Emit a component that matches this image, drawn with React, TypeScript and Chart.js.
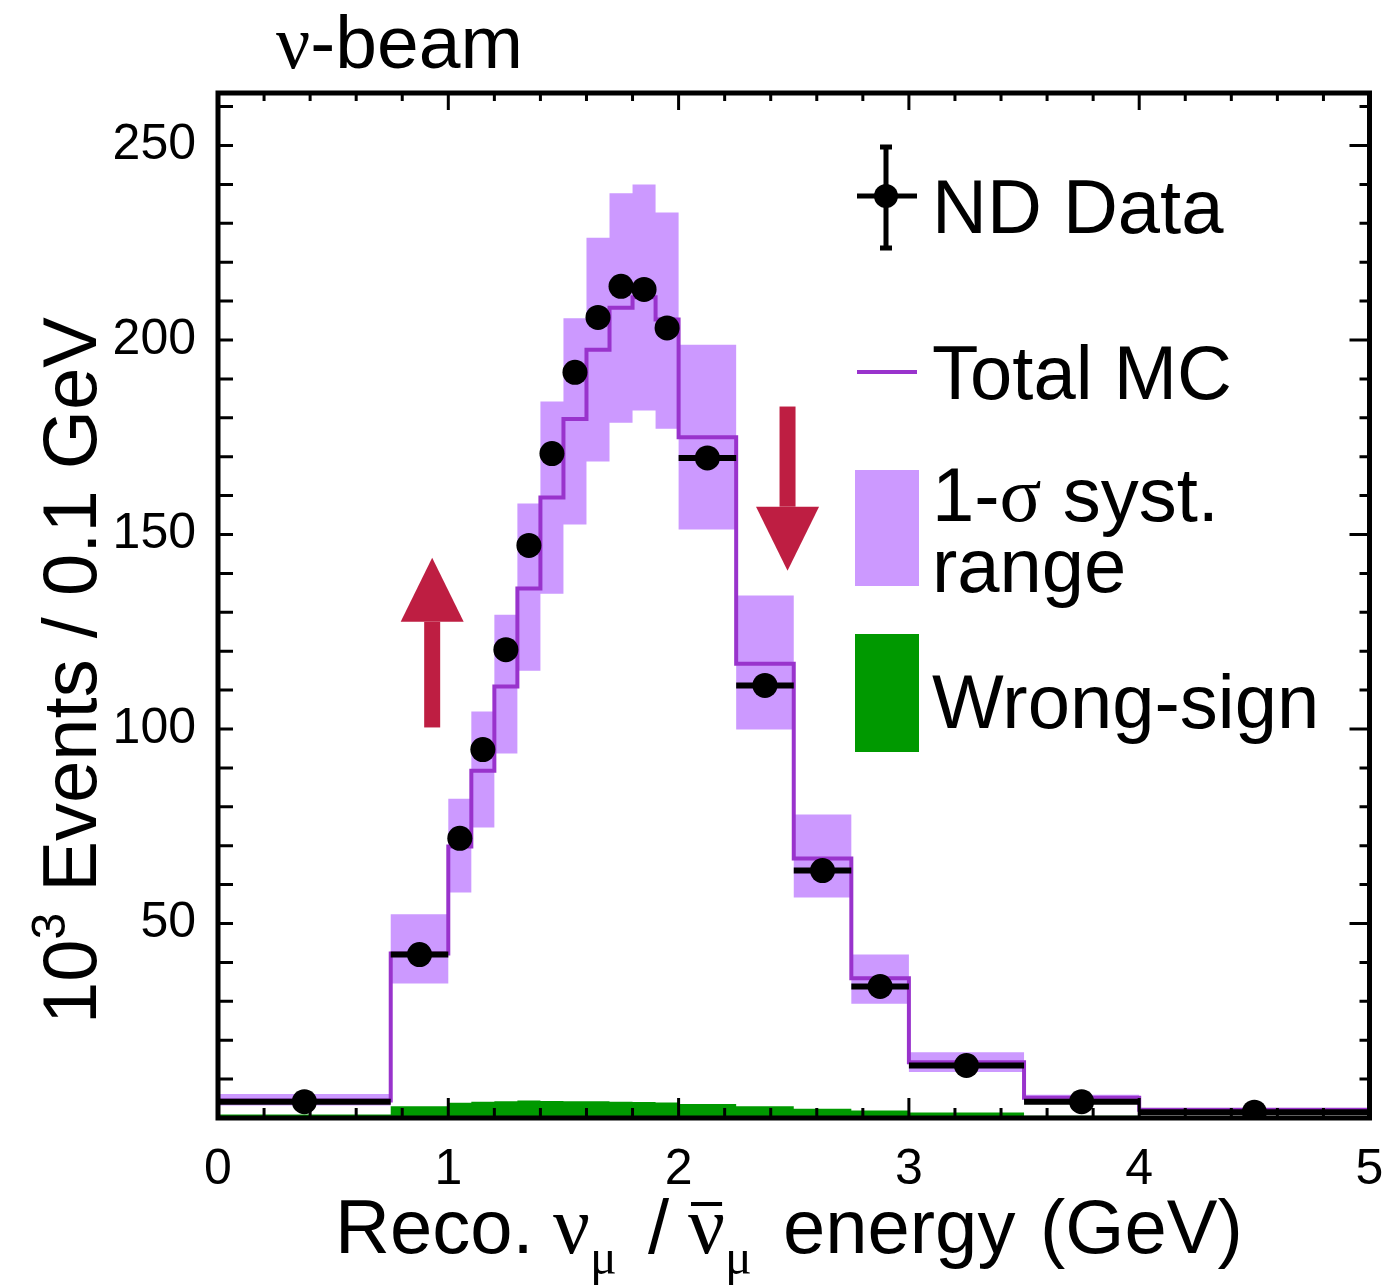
import { useEffect, useRef } from "react";
import { Chart, registerables } from "chart.js";

Chart.register(...registerables);

// ---- data ----
const binEdges = [0, 0.75, 1.0, 1.1, 1.2, 1.3, 1.4, 1.5, 1.6, 1.7, 1.8, 1.9, 2.0, 2.25, 2.5, 2.75, 3.0, 3.5, 4.0, 5.0];
const ndData = [4.2, 42.0, 71.9, 94.7, 120.4, 147.2, 170.8, 191.7, 205.8, 213.8, 213.0, 203.1, 169.7, 111.2, 63.6, 33.8, 13.5, 4.2, 1.5];
const totalMC = [4.5, 42.3, 69.8, 89.3, 110.9, 136.1, 159.5, 179.7, 197.5, 208.3, 211.0, 205.3, 175.0, 116.8, 66.7, 35.9, 14.3, 5.2, 2.1];
const systUpper = [6.2, 52.4, 82.1, 104.5, 129.4, 158.0, 184.2, 205.6, 226.3, 237.7, 240.0, 232.8, 198.8, 134.3, 78.0, 42.0, 16.9, 6.0, 2.6];
const systLower = [3.2, 34.6, 58.0, 74.7, 93.7, 115.0, 134.8, 152.6, 168.8, 178.7, 181.9, 177.2, 151.3, 99.9, 56.7, 29.4, 11.8, 4.0, 1.4];
const wrongSign = [0.9, 3.0, 3.9, 4.2, 4.3, 4.5, 4.4, 4.3, 4.3, 4.2, 4.1, 4.0, 3.6, 3.0, 2.4, 1.9, 1.4, 0.6, 0.3];

const arrowX = [0.93, 2.473];
const arrowTail = [100.4, 182.9];
const arrowTip = [144.0, 140.7];

const xMin = 0;
const xMax = 5;
const yMin = 0;
const yMax = 263.5;

const SANS = '"Liberation Sans", Arial, Helvetica, sans-serif';
const SERIF = '"Liberation Serif", "Times New Roman", serif';

const C_BAND = "#CC99FF";
const C_MC = "#9933CC";
const C_WS = "#009900";
const C_ARROW = "#BE1E42";

function stepPoints(vals: number[]) {
  const pts: { x: number; y: number }[] = [];
  vals.forEach((v, i) => {
    pts.push({ x: binEdges[i], y: v });
    pts.push({ x: binEdges[i + 1], y: v });
  });
  return pts;
}

function errorBarPoints(vals: number[]) {
  const pts: { x: number; y: number | null }[] = [];
  vals.forEach((v, i) => {
    pts.push({ x: binEdges[i], y: v });
    pts.push({ x: binEdges[i + 1], y: v });
    pts.push({ x: binEdges[i + 1], y: null });
  });
  return pts;
}

type Run = { t: string; f: string; dy?: number; bar?: boolean; x?: number };

function drawRuns(ctx: CanvasRenderingContext2D, x: number, y: number, parts: Run[]) {
  let cx = x;
  for (const p of parts) {
    if (p.x !== undefined) cx = p.x;
    ctx.font = p.f;
    ctx.fillText(p.t, cx, y + (p.dy || 0));
    const w = ctx.measureText(p.t).width;
    if (p.bar) {
      ctx.save();
      ctx.lineWidth = 4;
      ctx.beginPath();
      ctx.moveTo(cx + 3, y - 49);
      ctx.lineTo(cx + w - 3, y - 49);
      ctx.stroke();
      ctx.restore();
    }
    cx += w;
  }
}

const overlayPlugin = {
  id: "overlay",
  afterDatasetsDraw(chart: any) {
    const { ctx, scales } = chart;
    const xs = scales.x;
    const ys = scales.y;
    ctx.save();
    ctx.fillStyle = C_ARROW;
    arrowX.forEach((ax, i) => {
      const px = xs.getPixelForValue(ax);
      const pTail = ys.getPixelForValue(arrowTail[i]);
      const pTip = ys.getPixelForValue(arrowTip[i]);
      const dir = pTip < pTail ? -1 : 1;
      const headLen = 64;
      const headHalf = 31.5;
      const shaftHalf = 8;
      const pBase = pTip - dir * headLen;
      ctx.fillRect(px - shaftHalf, Math.min(pTail, pBase), shaftHalf * 2, Math.abs(pBase - pTail));
      ctx.beginPath();
      ctx.moveTo(px - headHalf, pBase);
      ctx.lineTo(px + headHalf, pBase);
      ctx.lineTo(px, pTip);
      ctx.closePath();
      ctx.fill();
    });
    ctx.restore();
  },
  afterDraw(chart: any) {
    const { ctx, chartArea: a, scales } = chart;
    const xs = scales.x;
    const ys = scales.y;
    ctx.save();
    ctx.strokeStyle = "#000";
    ctx.fillStyle = "#000";

    // inward ticks
    ctx.lineWidth = 3;
    ctx.beginPath();
    for (let k = 0; k * 10 <= yMax; k++) {
      const v = k * 10;
      const py = ys.getPixelForValue(v);
      const major = k % 5 === 0;
      ctx.moveTo(a.left, py);
      ctx.lineTo(a.left + 15, py);
      ctx.moveTo(a.right, py);
      ctx.lineTo(a.right - (major ? 20 : 10), py);
    }
    for (let k = 0; k <= 25; k++) {
      const v = k * 0.2;
      const px = xs.getPixelForValue(v);
      const major = k % 5 === 0;
      ctx.moveTo(px, a.bottom);
      ctx.lineTo(px, a.bottom - (major ? 20 : 10));
      ctx.moveTo(px, a.top);
      ctx.lineTo(px, a.top + (major ? 17 : 8));
    }
    ctx.stroke();

    // frame
    ctx.lineWidth = 5;
    ctx.strokeRect(a.left, a.top, a.right - a.left, a.bottom - a.top);

    // title
    ctx.textAlign = "left";
    ctx.textBaseline = "alphabetic";
    drawRuns(ctx, 276, 68, [
      { t: "\u03BD", f: `76px ${SERIF}` },
      { t: "-beam", f: `75px ${SANS}` },
    ]);

    // x title
    drawRuns(ctx, 335, 1253, [
      { t: "Reco.", f: `76px ${SANS}`, x: 335 },
      { t: "\u03BD", f: `82px ${SERIF}`, x: 553 },
      { t: "\u03BC", f: `50px ${SERIF}`, dy: 21 },
      { t: "/", f: `76px ${SANS}`, x: 648 },
      { t: "\u03BD", f: `82px ${SERIF}`, bar: true, x: 688 },
      { t: "\u03BC", f: `50px ${SERIF}`, dy: 21 },
      { t: "energy", f: `76px ${SANS}`, x: 783 },
      { t: "(GeV)", f: `76px ${SANS}`, x: 1040 },
    ]);

    // y title
    ctx.save();
    ctx.translate(96, 1024);
    ctx.rotate(-Math.PI / 2);
    drawRuns(ctx, 0, 0, [
      { t: "10", f: `76px ${SANS}` },
      { t: "3", f: `48px ${SANS}`, dy: -31 },
      { t: " Events / 0.1 GeV", f: `76px ${SANS}` },
    ]);
    ctx.restore();

    // legend
    // ND Data
    ctx.lineWidth = 5;
    ctx.beginPath();
    ctx.moveTo(886, 147);
    ctx.lineTo(886, 248);
    ctx.moveTo(880, 147);
    ctx.lineTo(892, 147);
    ctx.moveTo(880, 248);
    ctx.lineTo(892, 248);
    ctx.moveTo(857, 196);
    ctx.lineTo(917, 196);
    ctx.stroke();
    ctx.beginPath();
    ctx.arc(886, 196, 12, 0, Math.PI * 2);
    ctx.fill();
    ctx.font = `76px ${SANS}`;
    ctx.fillText("ND Data", 932, 233);

    // Total MC
    ctx.strokeStyle = C_MC;
    ctx.lineWidth = 4;
    ctx.beginPath();
    ctx.moveTo(857, 372);
    ctx.lineTo(917, 372);
    ctx.stroke();
    ctx.fillStyle = "#000";
    ctx.fillText("Total MC", 932, 399);

    // syst band
    ctx.fillStyle = C_BAND;
    ctx.fillRect(855, 470, 64, 116);
    ctx.fillStyle = "#000";
    drawRuns(ctx, 932, 521, [
      { t: "1-", f: `76px ${SANS}` },
      { t: "\u03C3", f: `78px ${SERIF}` },
      { t: " syst.", f: `76px ${SANS}` },
    ]);
    ctx.font = `76px ${SANS}`;
    ctx.fillText("range", 932, 592);

    // wrong sign
    ctx.fillStyle = C_WS;
    ctx.fillRect(855, 634, 64, 118);
    ctx.fillStyle = "#000";
    ctx.fillText("Wrong-sign", 932, 728);

    ctx.restore();
  },
};

export default function App() {
  const ref = useRef<HTMLCanvasElement | null>(null);

  useEffect(() => {
    document.body.style.margin = "0";
    const canvas = ref.current;
    if (!canvas) return;

    const mcPoints = [{ x: binEdges[0], y: 0 }, ...stepPoints(totalMC), { x: binEdges[binEdges.length - 1], y: 0 }];
    const centers = ndData.map((v, i) => ({ x: (binEdges[i] + binEdges[i + 1]) / 2, y: v }));

    const chart = new Chart(canvas, {
      type: "line",
      data: {
        datasets: [
          {
            label: "ND Data",
            data: centers,
            showLine: false,
            pointRadius: 12.5,
            pointHoverRadius: 12.5,
            pointBackgroundColor: "#000",
            pointBorderWidth: 0,
            order: 0,
          },
          {
            label: "ND Data bins",
            data: errorBarPoints(ndData),
            borderColor: "#000",
            borderWidth: 6,
            pointRadius: 0,
            spanGaps: false,
            fill: false,
            order: 1,
          },
          {
            label: "Total MC",
            data: mcPoints,
            borderColor: C_MC,
            borderWidth: 4,
            pointRadius: 0,
            fill: false,
            order: 2,
          },
          {
            label: "syst lower",
            data: stepPoints(systLower),
            borderColor: "rgba(0,0,0,0)",
            borderWidth: 0,
            pointRadius: 0,
            backgroundColor: C_BAND,
            fill: { target: 4 },
            order: 3,
          },
          {
            label: "syst upper",
            data: stepPoints(systUpper),
            borderColor: "rgba(0,0,0,0)",
            borderWidth: 0,
            pointRadius: 0,
            fill: false,
            order: 4,
          },
          {
            label: "Wrong-sign",
            data: stepPoints(wrongSign),
            borderColor: "rgba(0,0,0,0)",
            borderWidth: 0,
            pointRadius: 0,
            backgroundColor: C_WS,
            fill: "origin",
            order: 5,
          },
        ] as any,
      },
      options: {
        responsive: false,
        animation: false,
        devicePixelRatio: 1,
        layout: { padding: { top: 93, right: 10, left: 0, bottom: 0 } },
        plugins: {
          legend: { display: false },
          tooltip: { enabled: false },
        },
        events: [],
        scales: {
          x: {
            type: "linear",
            min: xMin,
            max: xMax,
            grid: { display: false },
            border: { display: false },
            ticks: {
              stepSize: 1,
              includeBounds: false,
              color: "#000",
              padding: 14,
              maxRotation: 0,
              font: { family: SANS, size: 50 },
              callback: (v: any) => String(v),
            },
            afterFit: (s: any) => {
              s.height = 168;
              s.paddingLeft = 0;
              s.paddingRight = 0;
            },
          },
          y: {
            type: "linear",
            min: yMin,
            max: yMax,
            grid: { display: false },
            border: { display: false },
            ticks: {
              stepSize: 50,
              includeBounds: false,
              color: "#000",
              padding: 14,
              font: { family: SANS, size: 50 },
              callback: (v: any) => (v === 0 ? "" : String(v)),
            },
            afterFit: (s: any) => {
              s.width = 218;
              s.paddingTop = 0;
              s.paddingBottom = 0;
            },
          },
        },
      } as any,
      plugins: [overlayPlugin],
    });

    return () => chart.destroy();
  }, []);

  return <canvas ref={ref} width={1382} height={1286} style={{ display: "block", width: 1382, height: 1286 }} />;
}
